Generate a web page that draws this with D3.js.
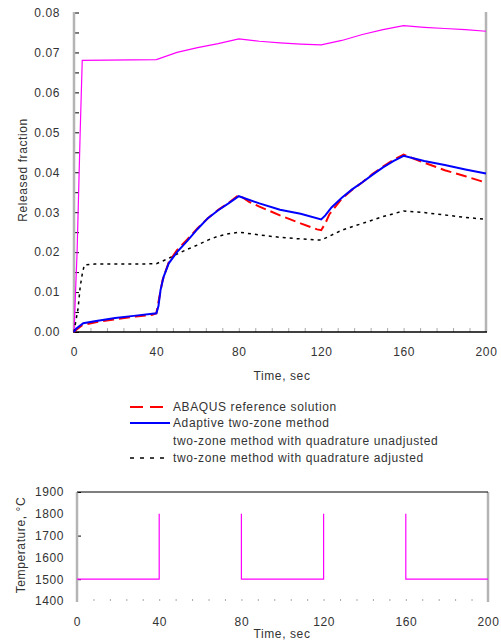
<!DOCTYPE html>
<html>
<head>
<meta charset="utf-8">
<script src="https://cdn.jsdelivr.net/npm/d3@7"></script>
<style>
  body { margin: 0; background: #fff; }
  svg text { font-family: "Liberation Sans", Arial, sans-serif; fill: #333; letter-spacing: 0.6px; }
</style>
</head>
<body>
<svg id="chart" width="501" height="642"></svg>
<script>
// released fraction vs time (sec)
var abaqusT = [0, 1, 4, 10, 20, 30, 38, 40, 41, 43, 46, 50, 55, 60, 65, 70, 75, 80, 85, 90, 100, 110, 118, 120, 122, 124, 130, 135, 140, 145, 150, 155, 160, 170, 180, 190, 200];
var abaqusV = [0, 0.0005, 0.0017, 0.0024, 0.0032, 0.0039, 0.0043, 0.0047, 0.0075, 0.013, 0.0175, 0.0205, 0.0232, 0.026, 0.0285, 0.0306, 0.0323, 0.0343, 0.0326, 0.0314, 0.0292, 0.0272, 0.0257, 0.0255, 0.0272, 0.0295, 0.0334, 0.0356, 0.0375, 0.0396, 0.0414, 0.0431, 0.0444, 0.0424, 0.0405, 0.039, 0.0374];

var adaptiveT = [0, 1, 4.5, 10, 20, 30, 40, 41, 42, 43.5, 46, 50, 55, 60, 65, 70, 75, 80, 90, 100, 110, 120, 122, 125, 130, 135, 140, 145, 150, 155, 160, 170, 180, 190, 200];
var adaptiveV = [0, 0.0008, 0.0022, 0.0027, 0.0035, 0.0041, 0.0047, 0.0065, 0.0105, 0.0138, 0.0172, 0.02, 0.0228, 0.0258, 0.0285, 0.0305, 0.0322, 0.034, 0.0322, 0.0306, 0.0296, 0.0282, 0.0292, 0.0312, 0.0336, 0.0357, 0.0375, 0.0394, 0.0412, 0.0428, 0.0441, 0.0428, 0.0418, 0.0407, 0.0397];

var unadjT = [0, 1.5, 3, 4, 40, 50, 60, 70, 80, 90, 100, 110, 120, 130, 140, 150, 160, 170, 180, 190, 200];
var unadjV = [0, 0.02, 0.05, 0.068, 0.0682, 0.07, 0.0712, 0.0722, 0.0734, 0.0728, 0.0724, 0.0721, 0.0719, 0.073, 0.0745, 0.0757, 0.0767, 0.0763, 0.076, 0.0757, 0.0753];

var adjT = [0, 1, 2, 3, 4, 5, 10, 20, 30, 40, 45, 50, 55, 60, 65, 70, 75, 80, 90, 100, 110, 120, 130, 140, 150, 160, 170, 180, 190, 200];
var adjV = [0, 0.003, 0.006, 0.0113, 0.0145, 0.0168, 0.017, 0.017, 0.017, 0.0171, 0.0182, 0.0195, 0.0207, 0.0218, 0.023, 0.024, 0.0246, 0.025, 0.0243, 0.0237, 0.0233, 0.023, 0.0255, 0.0272, 0.0289, 0.0303, 0.0299, 0.0293, 0.0287, 0.0282];

// temperature history (null = not drawn)
var tempT = [0, 40, 40, 60, 80, 80, 120, 120, 140, 160, 160, 200];
var tempV = [1500, 1500, 1800, null, 1800, 1500, 1500, 1800, null, 1800, 1500, 1500];

var timeTicks = [0, 40, 80, 120, 160, 200];
var fracTicks = [0, 0.01, 0.02, 0.03, 0.04, 0.05, 0.06, 0.07, 0.08];
var tempTicks = [1400, 1500, 1600, 1700, 1800, 1900];

var legendNames = ['ABAQUS reference solution', 'Adaptive two-zone method',
                   'two-zone method with quadrature unadjusted', 'two-zone method with quadrature adjusted'];

function pts(t, v) { return t.map(function (d, i) { return {t: d, v: v[i]}; }); }

var svg = d3.select('#chart');

// ---------- top chart ----------
var x = d3.scaleLinear().domain([0, 200]).range([74, 486]);
var y = d3.scaleLinear().domain([0, 0.08]).range([332, 12.5]);

var topG = svg.append('g');

// minor ticks along the time axis
topG.append('g').attr('transform', 'translate(0,332)')
  .call(d3.axisBottom(x).tickValues(d3.range(0, 201, 8)).tickSize(-4).tickFormat(''))
  .call(function (g) { g.select('.domain').remove(); g.selectAll('line').attr('stroke', '#aaa'); });

topG.append('g').attr('transform', 'translate(0,332)')
  .call(d3.axisBottom(x).tickValues(timeTicks).tickSize(0).tickPadding(15).tickFormat(d3.format('d')))
  .call(function (g) { g.select('.domain').remove(); g.selectAll('text').style('font-size', '12px'); });

topG.append('g').attr('transform', 'translate(74,0)')
  .call(d3.axisRight(y).tickValues(d3.range(0, 0.0801, 0.005)).tickSize(5).tickFormat(''))
  .call(function (g) { g.select('.domain').remove(); g.selectAll('line').attr('stroke', '#000'); });

topG.append('g').attr('transform', 'translate(74,0)')
  .call(d3.axisLeft(y).tickValues(fracTicks).tickSize(0).tickPadding(14).tickFormat(d3.format('.2f')))
  .call(function (g) { g.select('.domain').remove(); g.selectAll('text').style('font-size', '12px'); });

// frame
topG.append('line').attr('x1', 74).attr('x2', 74).attr('y1', 12).attr('y2', 332).attr('stroke', '#b4b4b4').attr('stroke-width', 2.5);
topG.append('line').attr('x1', 486).attr('x2', 486).attr('y1', 12).attr('y2', 332).attr('stroke', '#b4b4b4').attr('stroke-width', 2.5);
topG.append('line').attr('x1', 73).attr('x2', 487).attr('y1', 332).attr('y2', 332).attr('stroke', '#000').attr('stroke-width', 1.5);

var line = d3.line().x(function (d) { return x(d.t); }).y(function (d) { return y(d.v); });

topG.append('path').datum(pts(unadjT, unadjV)).attr('d', line)
  .attr('fill', 'none').attr('stroke', '#ff00ff').attr('stroke-width', 1.2);
topG.append('path').datum(pts(adjT, adjV)).attr('d', line)
  .attr('fill', 'none').attr('stroke', '#000').attr('stroke-width', 1.5).attr('stroke-dasharray', '3,4');
topG.append('path').datum(pts(abaqusT, abaqusV)).attr('d', line)
  .attr('fill', 'none').attr('stroke', '#ff0000').attr('stroke-width', 2).attr('stroke-dasharray', '11,5');
topG.append('path').datum(pts(adaptiveT, adaptiveV)).attr('d', line)
  .attr('fill', 'none').attr('stroke', '#0000ff').attr('stroke-width', 2);

topG.append('text').attr('transform', 'translate(27,170) rotate(-90)')
  .attr('text-anchor', 'middle').style('font-size', '12px').text('Released fraction');
topG.append('text').attr('x', 282).attr('y', 380)
  .attr('text-anchor', 'middle').style('font-size', '12px').text('Time, sec');

// ---------- legend ----------
var legStyles = [
  {stroke: '#ff0000', w: 2, dash: '13,7', x2: 163},
  {stroke: '#0000ff', w: 2, dash: null, x2: 170},
  {stroke: 'none', w: 0, dash: null, x2: 163},
  {stroke: '#000', w: 1.5, dash: '4,6', x2: 166}
];
var legY = [407, 423, 441, 458];
var legend = svg.append('g');
legendNames.forEach(function (name, i) {
  var s = legStyles[i];
  if (s.stroke !== 'none') {
    legend.append('line').attr('x1', 130).attr('x2', s.x2).attr('y1', legY[i]).attr('y2', legY[i])
      .attr('stroke', s.stroke).attr('stroke-width', s.w).attr('stroke-dasharray', s.dash);
  }
  legend.append('text').attr('x', 173).attr('y', legY[i] + 4).style('font-size', '12px').text(name);
});

// ---------- bottom chart ----------
var x2 = d3.scaleLinear().domain([0, 200]).range([77, 488]);
var y2 = d3.scaleLinear().domain([1400, 1900]).range([601, 492]);
var bot = svg.append('g');

bot.append('g').attr('transform', 'translate(0,601)')
  .call(d3.axisBottom(x2).tickValues(d3.range(0, 201, 8)).tickSize(-2).tickFormat(''))
  .call(function (g) { g.select('.domain').remove(); g.selectAll('line').attr('stroke', '#aaa'); });
bot.append('g').attr('transform', 'translate(0,601)')
  .call(d3.axisBottom(x2).tickValues(timeTicks).tickSize(0).tickPadding(16).tickFormat(d3.format('d')))
  .call(function (g) { g.select('.domain').remove(); g.selectAll('text').style('font-size', '12px'); });

bot.append('g').attr('transform', 'translate(77,0)')
  .call(d3.axisRight(y2).tickValues([1500, 1700, 1900]).tickSize(4).tickFormat(''))
  .call(function (g) { g.select('.domain').remove(); g.selectAll('line').attr('stroke', '#000'); });
bot.append('g').attr('transform', 'translate(77,0)')
  .call(d3.axisLeft(y2).tickValues(tempTicks).tickSize(0).tickPadding(13).tickFormat(d3.format('d')))
  .call(function (g) { g.select('.domain').remove(); g.selectAll('text').style('font-size', '12px'); });

bot.append('line').attr('x1', 77).attr('x2', 77).attr('y1', 492).attr('y2', 602).attr('stroke', '#b4b4b4').attr('stroke-width', 2.5);
bot.append('line').attr('x1', 488).attr('x2', 488).attr('y1', 492).attr('y2', 602).attr('stroke', '#b4b4b4').attr('stroke-width', 2.5);
bot.append('line').attr('x1', 77).attr('x2', 488).attr('y1', 492).attr('y2', 492).attr('stroke', '#000').attr('stroke-width', 1.2);

var line2 = d3.line().defined(function (d) { return d.v !== null; })
  .x(function (d) { return x2(d.t); }).y(function (d) { return y2(d.v); });
bot.append('path').datum(pts(tempT, tempV)).attr('d', line2)
  .attr('fill', 'none').attr('stroke', '#ff00ff').attr('stroke-width', 1.2);

bot.append('text').attr('transform', 'translate(25,545) rotate(-90)')
  .attr('text-anchor', 'middle').style('font-size', '12px').text('Temperature, °C');
bot.append('text').attr('x', 282).attr('y', 638)
  .attr('text-anchor', 'middle').style('font-size', '12px').text('Time, sec');
</script>
</body>
</html>
